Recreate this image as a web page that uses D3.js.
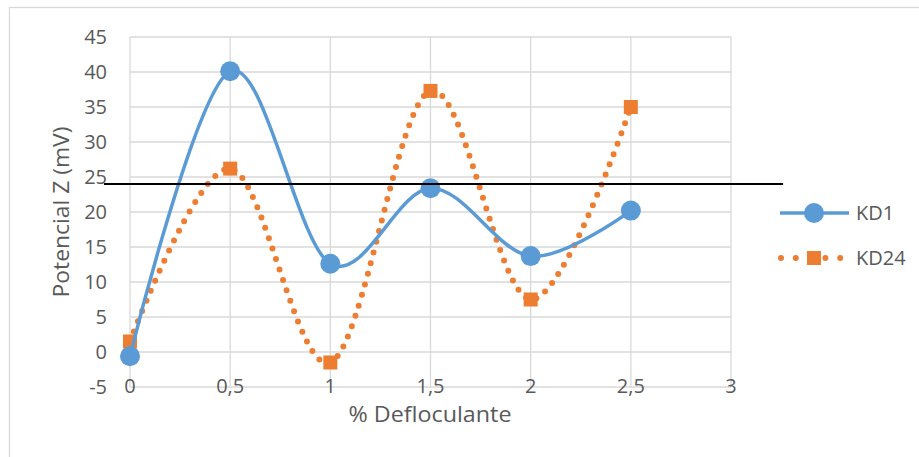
<!DOCTYPE html>
<html><head><meta charset="utf-8">
<script src="https://cdn.jsdelivr.net/npm/d3@7"></script>
<style>body{margin:0;background:#fff;}svg{display:block;font-family:"Open Sans",sans-serif;}</style>
</head><body>
<svg id="c" width="919" height="457"></svg>
<script>
const xValues = [0, 0.5, 1, 1.5, 2, 2.5];
const kd1 = [-0.6, 40.1, 12.6, 23.4, 13.7, 20.2];
const kd24 = [1.5, 26.2, -1.5, 37.3, 7.5, 35.0];
const seriesNames = ["KD1", "KD24"];
const xTicks = [0, 0.5, 1, 1.5, 2, 2.5, 3];
const xTickLabels = ["0", "0,5", "1", "1,5", "2", "2,5", "3"];
const yTicks = [-5, 0, 5, 10, 15, 20, 25, 30, 35, 40, 45];
const refValue = 24;
const refExtent = [-0.13, 3.26];

const svg = d3.select("#c");
const x = d3.scaleLinear().domain([0, 3]).range([130, 731]);
const y = d3.scaleLinear().domain([-5, 45]).range([387, 37]);
const txt = "#595959";

// outer frame
svg.append("rect").attr("x", 9.5).attr("y", 7.5).attr("width", 940).attr("height", 480)
  .attr("fill", "#fff").attr("stroke", "#d9d9d9").attr("stroke-width", 1.3);

// gridlines
svg.append("g").selectAll("line").data(yTicks).join("line")
  .attr("x1", x(0)).attr("x2", x(3)).attr("y1", d => y(d)).attr("y2", d => y(d))
  .attr("stroke", "#d9d9d9").attr("stroke-width", 1.3);
svg.append("g").selectAll("line").data(xTicks).join("line")
  .attr("x1", d => x(d)).attr("x2", d => x(d)).attr("y1", y(45)).attr("y2", y(-5))
  .attr("stroke", "#d9d9d9").attr("stroke-width", 1.3);

// y tick labels
svg.append("g").selectAll("text").data(yTicks).join("text")
  .attr("x", 107).attr("y", d => y(d)).attr("dy", "0.36em").attr("text-anchor", "end")
  .attr("fill", txt).attr("font-size", 20).text(d => d);
// x tick labels
svg.append("g").selectAll("text").data(xTicks).join("text")
  .attr("x", d => x(d)).attr("y", y(-5)).attr("dy", "0.3em").attr("text-anchor", "middle")
  .attr("fill", txt).attr("font-size", 20).text((d, i) => xTickLabels[i]);

// axis titles
svg.append("text").attr("transform", `translate(69,212) rotate(-90)`)
  .attr("text-anchor", "middle").attr("fill", txt).attr("font-size", 21)
  .attr("textLength", 171).attr("lengthAdjust", "spacingAndGlyphs").text("Potencial Z (mV)");
svg.append("text").attr("x", 430).attr("y", 422).attr("text-anchor", "middle")
  .attr("fill", txt).attr("font-size", 21)
  .attr("textLength", 163).attr("lengthAdjust", "spacingAndGlyphs").text("% Defloculante");

const line = d3.line().x(d => x(d[0])).y(d => y(d[1])).curve(d3.curveCardinal.tension(0));
const d1 = xValues.map((v, i) => [v, kd1[i]]);
const d24 = xValues.map((v, i) => [v, kd24[i]]);

// KD24 dotted
svg.append("path").attr("d", line(d24)).attr("fill", "none").attr("stroke", "#ed7d31")
  .attr("stroke-width", 6).attr("stroke-linecap", "round").attr("stroke-dasharray", "0,11");
svg.append("g").selectAll("rect").data(d24).join("rect")
  .attr("x", d => x(d[0]) - 7).attr("y", d => y(d[1]) - 7).attr("width", 14).attr("height", 14)
  .attr("fill", "#ed7d31");

// KD1
svg.append("path").attr("d", line(d1)).attr("fill", "none").attr("stroke", "#5b9bd5")
  .attr("stroke-width", 3.5);
svg.append("g").selectAll("circle").data(d1).join("circle")
  .attr("cx", d => x(d[0])).attr("cy", d => y(d[1])).attr("r", 10).attr("fill", "#5b9bd5");

// reference line
svg.append("line").attr("x1", x(refExtent[0])).attr("x2", x(refExtent[1]))
  .attr("y1", y(refValue)).attr("y2", y(refValue)).attr("stroke", "#000").attr("stroke-width", 2);

// legend
const lg = svg.append("g");
lg.append("line").attr("x1", 780).attr("x2", 849).attr("y1", 213).attr("y2", 213)
  .attr("stroke", "#5b9bd5").attr("stroke-width", 3.5);
lg.append("circle").attr("cx", 814).attr("cy", 213).attr("r", 10).attr("fill", "#5b9bd5");
lg.append("text").attr("x", 856).attr("y", 213).attr("dy", "0.36em").attr("fill", txt)
  .attr("font-size", 20).text(seriesNames[0]);
lg.append("line").attr("x1", 781).attr("x2", 848).attr("y1", 258).attr("y2", 258)
  .attr("stroke", "#ed7d31").attr("stroke-width", 6).attr("stroke-linecap", "round")
  .attr("stroke-dasharray", "0,14.8");
lg.append("rect").attr("x", 807).attr("y", 251).attr("width", 14).attr("height", 14).attr("fill", "#ed7d31");
lg.append("text").attr("x", 856).attr("y", 258).attr("dy", "0.36em").attr("fill", txt)
  .attr("font-size", 20).text(seriesNames[1]);
</script>
</body></html>
